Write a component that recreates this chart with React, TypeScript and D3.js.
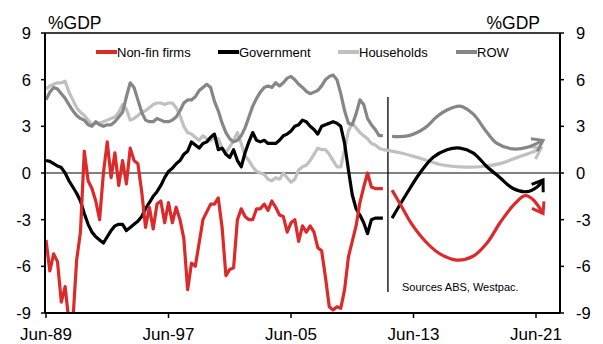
import React from "react";
import * as d3 from "d3";

// ---- data (quarterly from Jun-89) ----
const histStartYear = 1989.5;
const nonFinFirms = [
  -4.3, -6.3, -5.2, -5.7, -8.3, -7.3, -9.6, -9.6, -5.6, -3.8,
  1.4, -0.5, -1.0, -1.8, -3.0, 0.0, 2.0, -0.3, 1.3, -0.8,
  0.8, -0.7, 1.6, 0.8, 0.6, -1.2, -3.5, -2.2, -3.6, -2.0,
  -1.8, -3.2, -1.9, -3.2, -2.2, -3.0, -4.2, -7.5, -5.8, -6.0,
  -4.5, -3.0, -2.5, -2.0, -2.0, -1.6, -3.5, -6.6, -6.2, -6.1,
  -3.0, -2.3, -2.8, -3.0, -3.0, -2.3, -2.3, -2.0, -2.4, -1.8,
  -2.2, -2.7, -2.8, -3.8, -3.2, -3.0, -4.4, -3.4, -3.8, -3.4,
  -3.8, -4.8, -5.0, -6.7, -8.6, -8.8, -8.6, -8.7, -7.5, -5.4,
  -4.4, -3.4, -1.9, -0.9, 0.0, -0.9, -1.0, -1.0, -1.0,
];
const government = [
  0.8, 0.75, 0.6, 0.45, 0.35, 0.0, -0.5, -0.9, -1.3, -1.8,
  -2.6, -3.3, -3.8, -4.1, -4.3, -4.5, -4.1, -3.7, -3.4, -3.3,
  -3.3, -3.7, -3.5, -3.3, -3.1, -2.8, -2.3, -1.9, -1.5, -1.2,
  -0.8, -0.3, 0.1, 0.3, 0.6, 0.8, 1.2, 1.4, 2.0, 1.8,
  1.6, 1.9, 2.0, 2.3, 2.5, 1.5, 1.6, 1.2, 1.0, 1.5,
  0.8, 0.4, 1.3, 2.0, 2.6, 2.1, 2.0, 2.1, 1.9, 1.9,
  1.9, 2.1, 2.4, 2.5, 2.7, 3.0, 3.1, 3.4, 3.3, 3.0,
  2.8, 2.5, 3.0, 3.1, 3.2, 3.3, 3.2, 3.0, 1.9, 0.2,
  -1.4, -2.3, -2.7, -3.2, -3.9, -3.0, -2.9, -2.9, -2.9,
];
const households = [
  5.4, 5.6, 5.7, 5.8, 5.8, 5.9, 5.2, 4.7, 4.2, 3.9,
  3.7, 3.4, 3.1, 3.2, 3.2, 3.3, 3.4, 3.5, 3.6, 3.9,
  4.4, 4.1, 3.4, 3.5, 3.7, 3.9, 4.0, 4.2, 4.4, 4.5,
  4.5, 4.4, 4.5, 4.5, 4.2, 3.7, 3.0, 2.6, 2.5, 2.3,
  2.1, 2.4, 2.2, 2.1, 2.3, 2.2, 1.6, 1.3, 1.7, 2.1,
  2.6, 1.9, 1.1, 0.8, 0.4, 0.1, 0.0, -0.1, -0.4, -0.5,
  -0.3, -0.4, 0.0, -0.3, -0.6, -0.4, 0.2, 0.4, 0.5, 0.8,
  1.2, 1.6, 1.5, 1.5, 1.2, 0.8, 0.4, 0.4, 1.5, 2.7,
  3.2, 2.9, 2.6, 2.4, 2.2, 1.9, 1.8, 1.6, 1.5,
];
const row = [
  4.7, 5.2, 5.5, 5.4, 5.1, 4.8, 4.4, 4.0, 3.7, 3.5,
  3.4, 3.1, 3.0, 3.3, 3.1, 3.0, 3.1, 3.1, 3.3, 3.6,
  3.9, 4.9, 5.8, 5.5, 4.7, 3.9, 3.4, 3.3, 3.3, 3.5,
  3.4, 3.3, 3.3, 3.4, 3.6, 4.0, 4.5, 4.7, 4.7, 4.9,
  5.3, 5.5, 5.7, 5.5, 4.6, 4.0, 3.2, 2.6, 2.2, 2.0,
  2.1, 2.4, 2.9, 3.6, 4.3, 4.8, 5.2, 5.5, 5.6, 5.5,
  5.8, 5.6, 5.8, 6.1, 6.2, 6.0, 5.7, 5.5, 5.25, 5.1,
  5.2, 5.3, 5.6, 6.0, 6.2, 6.3, 6.0, 5.1, 4.0, 3.2,
  3.1, 3.8, 4.7, 4.4, 3.5, 3.1, 2.8, 2.4, 2.4,
];

// ---- forecasts (decimal year, value) ----
const nonFinFcYears = [2012.1, 2012.75, 2013.4, 2014.38, 2015.23, 2016.34, 2017.39, 2018.3, 2019.15, 2020.0, 2020.78, 2021.3, 2021.96];
const nonFinFcValues = [-1.1, -2.2, -3.3, -4.5, -5.2, -5.6, -5.35, -4.5, -3.2, -2.1, -1.45, -1.7, -2.6];
const govFcYears = [2012.1, 2013.07, 2013.92, 2014.77, 2015.69, 2016.54, 2017.39, 2018.3, 2019.15, 2020.0, 2020.91, 2021.57, 2021.96];
const govFcValues = [-2.9, -1.3, 0.0, 1.0, 1.5, 1.6, 1.3, 0.4, -0.3, -1.0, -1.2, -0.9, -0.45];
const hhFcYears = [2011.5, 2012.62, 2013.92, 2015.23, 2016.54, 2017.84, 2019.15, 2020.26, 2021.3, 2021.83];
const hhFcValues = [1.5, 1.3, 0.95, 0.55, 0.4, 0.4, 0.6, 1.0, 1.35, 1.6];
const rowFcYears = [2012.1, 2013.2, 2014.25, 2015.0, 2015.69, 2016.54, 2017.39, 2018.3, 2018.95, 2020.0, 2020.91, 2021.96];
const rowFcValues = [2.35, 2.4, 2.9, 3.6, 4.05, 4.3, 3.8, 2.6, 1.9, 1.55, 1.65, 2.1];

const xTickYears = [1989.5, 1997.5, 2005.5, 2013.5, 2021.5];
const xTickLabels = ["Jun-89", "Jun-97", "Jun-05", "Jun-13", "Jun-21"];
const yTicks = [9, 6, 3, 0, -3, -6, -9];
const forecastDividerYear = 2011.83;

const seriesNames = ["Non-fin firms", "Government", "Households", "ROW"];
const seriesColors = ["#dc2a2a", "#000000", "#c0c0c0", "#868686"];

const FONT = "'Liberation Sans', Arial, Helvetica, sans-serif";

export default function App() {
  const W = 603, H = 344;
  const left = 45, right = 560, top = 33, bottom = 313;
  const pxPerYear = 15.3125;
  const x = d3.scaleLinear()
    .domain([1989.5 - 1 / pxPerYear, 1989.5 + (right - 46) / pxPerYear])
    .range([left, right]);
  const y = d3.scaleLinear().domain([-9, 9]).range([bottom, top]);

  const hist = [nonFinFirms, government, households, row];
  const fcYears = [nonFinFcYears, govFcYears, hhFcYears, rowFcYears];
  const fcVals = [nonFinFcValues, govFcValues, hhFcValues, rowFcValues];

  const histLine = d3.line<number>()
    .x((_, i) => x(histStartYear + i / 4))
    .y((d) => y(d))
    .curve(d3.curveLinear);

  const fcLine = (ys: number[], vs: number[]) =>
    d3.line<number>()
      .x((_, i) => x(ys[i]))
      .y((d) => y(d))
      .curve(d3.curveCatmullRom.alpha(0.5))(vs) || "";

  const drawOrder = [2, 3, 1, 0];
  const legendX = [96, 218, 338, 456];

  return (
    <svg width={W} height={H} style={{ position: "absolute", left: 0, top: 0 }} fontFamily={FONT}>
      <defs>
        <clipPath id="plotClip">
          <rect x={left} y={top} width={right - left} height={bottom - top} />
        </clipPath>
        {seriesColors.map((c, i) => (
          <marker key={i} id={`arr${i}`} viewBox="-14 -10 16 20" refX={0} refY={0}
            markerWidth={16} markerHeight={20} markerUnits="userSpaceOnUse" orient="auto"
            style={{ overflow: "visible" }}>
            <path d="M-10,-7 L0,0 L-10,7" fill="none" stroke={c} strokeWidth={3} strokeLinejoin="miter" />
          </marker>
        ))}
      </defs>
      <rect width={W} height={H} fill="#fff" />

      {/* zero line */}
      <line x1={left} x2={right} y1={y(0)} y2={y(0)} stroke="#000" strokeWidth={1} />
      {/* forecast divider */}
      <line x1={x(forecastDividerYear)} x2={x(forecastDividerYear)} y1={97} y2={292} stroke="#000" strokeWidth={1.3} />

      <g clipPath="url(#plotClip)">
        {drawOrder.map((i) => (
          <path key={`h${i}`} d={histLine(hist[i]) || ""} fill="none" stroke={seriesColors[i]}
            strokeWidth={3.2} strokeLinejoin="round" />
        ))}
      </g>
      {drawOrder.map((i) => (
        <path key={`f${i}`} d={fcLine(fcYears[i], fcVals[i])} fill="none" stroke={seriesColors[i]}
          strokeWidth={3.2} strokeLinecap="butt" markerEnd={`url(#arr${i})`} />
      ))}

      {/* frame */}
      <line x1={left} x2={right} y1={top} y2={top} stroke="#000" strokeWidth={1.5} />
      <line x1={left} x2={left} y1={top} y2={bottom} stroke="#000" strokeWidth={2} />
      <line x1={right} x2={right} y1={top} y2={bottom} stroke="#000" strokeWidth={2} />
      <line x1={left} x2={right} y1={bottom} y2={bottom} stroke="#000" strokeWidth={2} />

      {/* y ticks */}
      {yTicks.map((t) => (
        <g key={t}>
          <line x1={left - 4} x2={left} y1={y(t)} y2={y(t)} stroke="#000" strokeWidth={1.5} />
          <line x1={right} x2={right + 4} y1={y(t)} y2={y(t)} stroke="#000" strokeWidth={1.5} />
          <text x={31} y={y(t) + 6} textAnchor="end" fontSize={16.5} fill="#000">{String(t)}</text>
          <text x={576} y={y(t) + 6} textAnchor="start" fontSize={16.5} fill="#000">{String(t)}</text>
        </g>
      ))}
      {/* x ticks */}
      {xTickYears.map((t, i) => (
        <g key={t}>
          <line x1={x(t)} x2={x(t)} y1={bottom} y2={bottom + 5} stroke="#000" strokeWidth={1.5} />
          <text x={x(t)} y={340} textAnchor="middle" fontSize={17} fill="#000">{xTickLabels[i]}</text>
        </g>
      ))}

      <text x={48} y={29} fontSize={17.5} fill="#000">%GDP</text>
      <text x={540} y={29} fontSize={17.5} textAnchor="end" fill="#000">%GDP</text>

      {/* legend */}
      {seriesNames.map((n, i) => (
        <g key={n}>
          <line x1={legendX[i]} x2={legendX[i] + 21} y1={52} y2={52} stroke={seriesColors[i]} strokeWidth={4} />
          <text x={legendX[i] + 21} y={56.5} fontSize={13} fill="#000">{n}</text>
        </g>
      ))}

      <text x={402} y={291} fontSize={11} fill="#000">Sources  ABS, Westpac.</text>
    </svg>
  );
}
